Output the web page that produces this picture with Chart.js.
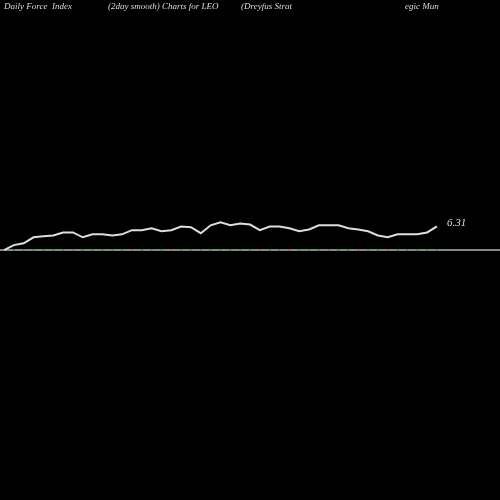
<!DOCTYPE html><html><head><style>html,body{margin:0;background:#000}</style>
<script src="https://cdn.jsdelivr.net/npm/chart.js"></script></head><body>
<canvas id="c" width="500" height="500"></canvas>
<script>
const labels=[...Array(45).keys()];
const forceValues=[0,1.3,1.8,3.4,3.7,3.9,4.7,4.7,3.4,4.2,4.2,3.9,4.2,5.3,5.3,5.8,5.0,5.3,6.3,6.1,4.5,6.6,7.4,6.6,7.1,6.8,5.3,6.3,6.3,5.8,5.0,5.5,6.6,6.6,6.6,5.8,5.5,5.0,3.9,3.4,4.2,4.2,4.2,4.7,6.31];
const dotColors=labels.map(i=>[7,13,17,26,29,33,36,39].includes(i)?'#c44':'#0a0');
const titles=[["Daily Force  Index",4],["(2day smooth) Charts for LEO",108],["(Dreyfus Strat",241],["egic Mun",405]];
const txt={id:'txt',afterDraw(ch){const c=ch.ctx;c.save();c.fillStyle='#ddd';c.font='italic 9px "Liberation Serif", serif';c.textBaseline='top';
titles.forEach(t=>c.fillText(t[0],t[1],2));
c.font='italic 11px "Liberation Serif", serif';c.textBaseline='middle';
const x=ch.scales.x.getPixelForValue(44),y=ch.scales.y.getPixelForValue(6.31);c.fillText(forceValues[44].toFixed(2),x+10,y-3);c.restore();}};
new Chart(document.getElementById('c'),{type:'line',data:{labels,datasets:[
{data:forceValues,borderColor:'#ddd',borderWidth:2,pointRadius:0,tension:0},
{data:labels.map(()=>0),borderColor:'rgba(0,0,0,0)',pointRadius:1,pointBackgroundColor:dotColors,pointBorderWidth:0}
]},options:{responsive:false,animation:false,layout:{padding:0},plugins:{legend:{display:false},tooltip:{enabled:false}},
scales:{x:{type:'linear',min:0,max:50,display:false},y:{min:-65.8,max:65.8,display:false}}},
plugins:[{id:'base',beforeDatasetsDraw(ch){const c=ch.ctx,y=ch.scales.y.getPixelForValue(0);c.save();c.strokeStyle='#888';c.lineWidth=2;c.beginPath();c.moveTo(0,y);c.lineTo(500,y);c.stroke();c.restore();}},txt]});
</script></body></html>
